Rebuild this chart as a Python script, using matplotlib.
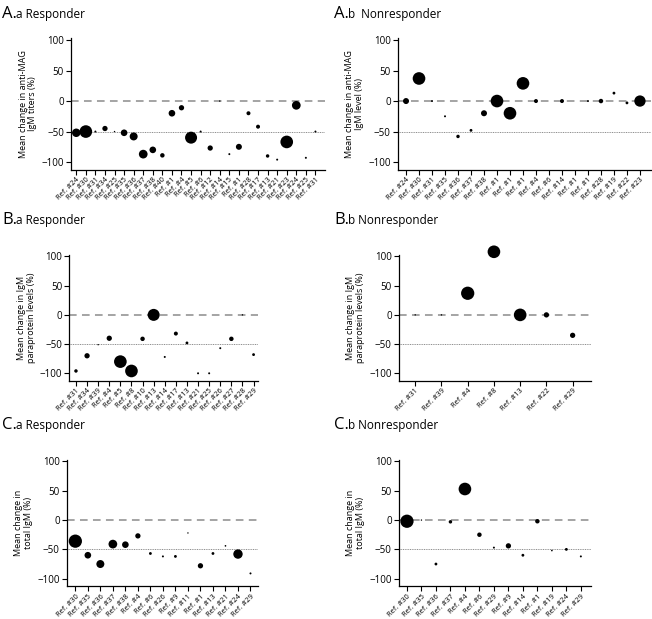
import matplotlib.pyplot as plt
import numpy as np

plt.rcParams['font.family'] = ['Open Sans', 'DejaVu Sans']

nan = np.nan

# A.a responder - anti-MAG IgM titers
aa_labels = ['#24', '#30', '#31', '#34', '#25', '#35', '#36', '#37', '#38', '#40',
             '#1', '#4', '#5', '#6', '#12', '#14', '#15', '#1', '#28', '#17',
             '#13', '#21', '#23', '#24', '#25', '#31']
aa_values = [-52, -50, -50, -45, -50, -52, -58, -87, -80, -89,
             -20, -11, -60, -50, -77, 0, -87, -75, -20, -42,
             -90, -96, -67, -7, -93, -50]
aa_n = [18, 40, 1, 7, 0.5, 11, 16, 19, 11, 5,
        11, 7, 36, 1, 7, 0.5, 1, 9, 4, 4,
        3, 1, 40, 19, 1, 1]

# A.b nonresponder - anti-MAG IgM level
ab_labels = ['#24', '#30', '#31', '#35', '#36', '#37', '#38', '#1', '#1', '#1',
             '#4', '#6', '#14', '#1', '#1', '#28', '#19', '#22', '#23']
ab_values = [0, 37, 0, -25, -58, -48, -20, 0, -20, 29,
             0, nan, 0, nan, 0, 0, 13, -3, 0]
ab_n = [9, 40, 1, 1, 3, 2, 9, 40, 40, 40,
        4, 1, 4, 1, 1, 5, 2, 2, 32]

# B.a responder - IgM paraprotein
ba_labels = ['#31', '#34', '#39', '#4', '#5', '#8', '#10', '#13', '#14', '#17',
             '#13', '#21', '#25', '#26', '#27', '#28', '#29']
ba_values = [-96, -70, -51, -40, -80, -96, -41, 0, -72, -32,
             -48, -100, -100, -57, -41, 0, -68]
ba_n = [3, 7, 0.5, 7, 40, 40, 5, 36, 1, 4,
        2, 1, 1, 1, 5, 0.5, 2]

# B.b nonresponder - IgM paraprotein
bb_labels = ['#31', '#39', '#4', '#8', '#13', '#22', '#29']
bb_values = [0, 0, 37, 108, 0, 0, -35]
bb_n = [0.5, 0.5, 44, 40, 40, 7, 7]

# C.a responder - total IgM
ca_labels = ['#30', '#35', '#36', '#37', '#38', '#4', '#6', '#26', '#9', '#11',
             '#1', '#13', '#21', '#24', '#29']
ca_values = [-36, -60, -75, -41, -42, -27, -57, -62, -62, -22,
             -78, -57, -44, -58, -91]
ca_n = [44, 11, 16, 19, 11, 7, 2, 1, 2, 0.5,
        7, 2, 0.7, 22, 1]

# C.b nonresponder - total IgM
cb_labels = ['#30', '#35', '#36', '#37', '#4', '#6', '#29', '#9', '#14', '#1',
             '#19', '#24', '#29']
cb_values = [-2, 0, -75, -3, 53, -25, -47, -44, -60, -2,
             -52, -50, -62]
cb_n = [44, 0.5, 2, 3, 40, 5, 1, 7, 2, 5,
        0.7, 2, 1]

W, H = 652, 619
fig = plt.figure(figsize=(W / 100, H / 100), dpi=100)


def px_axes(x0, x1, y_top, y_bot):
    return fig.add_axes([x0 / W, 1 - y_bot / H, (x1 - x0) / W, (y_bot - y_top) / H])


def panel(ax, labels, values, n, ylabel, xlim):
    x = np.arange(len(labels))
    ax.axhline(0, color='#8c8c8c', lw=1.1, ls=(0, (5, 3.5)), zorder=1)
    ax.axhline(-50, color='#8c8c8c', lw=0.7, ls=(0, (1, 0.8)), zorder=1)
    ax.scatter(x, values, s=np.array(n) * 2.07, color='black', zorder=3,
               edgecolors='none', clip_on=False)
    ax.set_xticks(x)
    ax.set_xticklabels(['Ref. ' + l for l in labels], rotation=45, ha='right',
                       rotation_mode='anchor', fontsize=5.4)
    ax.set_yticks([-100, -50, 0, 50, 100])
    ax.tick_params(axis='y', labelsize=7, length=3.5, width=0.8, pad=1.5)
    ax.tick_params(axis='x', length=3.5, width=0.8, pad=1.2)
    ax.set_ylim(-113, 103)
    ax.set_xlim(*xlim)
    ax.set_ylabel(ylabel, fontsize=6.5, linespacing=1.1, labelpad=3)
    for s in ['top', 'right']:
        ax.spines[s].set_visible(False)
    for s in ['left', 'bottom']:
        ax.spines[s].set_linewidth(0.9)


ax = px_axes(71, 325, 38.2, 170)
panel(ax, aa_labels, aa_values, aa_n, 'Mean change in anti-MAG\nIgM titers (%)', (-0.55, 26.0))
ax = px_axes(397.7, 651, 38.2, 170)
panel(ax, ab_labels, ab_values, ab_n, 'Mean change in anti-MAG\nIgM level (%)', (-0.64, 18.85))
ax = px_axes(69.3, 258, 254.7, 380.9)
panel(ax, ba_labels, ba_values, ba_n, 'Mean change in IgM\nparaprotein levels (%)', (-0.6, 16.4))
ax = px_axes(398.7, 591, 254.7, 380.9)
panel(ax, bb_labels, bb_values, bb_n, 'Mean change in IgM\nparaprotein levels (%)', (-0.63, 6.7))
ax = px_axes(66.7, 258, 459.7, 586.3)
panel(ax, ca_labels, ca_values, ca_n, 'Mean change in\ntotal IgM (%)', (-0.69, 14.6))
ax = px_axes(398.7, 591, 459.7, 586.3)
panel(ax, cb_labels, cb_values, cb_n, 'Mean change in\ntotal IgM (%)', (-0.57, 12.7))

# panel titles
titles = [(2, 18, 'A.', 'a Responder'), (334, 18, 'A.', 'b  Nonresponder'),
          (2, 224, 'B.', 'a Responder'), (334, 224, 'B.', 'b Nonresponder'),
          (2, 429, 'C.', 'a Responder'), (334, 429, 'C.', 'b Nonresponder')]
for x, y, big, small in titles:
    t = fig.text(x / W, 1 - y / H, big, fontsize=12, va='baseline', ha='left')
    fig.canvas.draw()
    bb = t.get_window_extent()
    fig.text(bb.x1 / W - 0.5 / W, 1 - y / H, small, fontsize=8.5, va='baseline', ha='left')

fig.savefig('out.png', dpi=100)
